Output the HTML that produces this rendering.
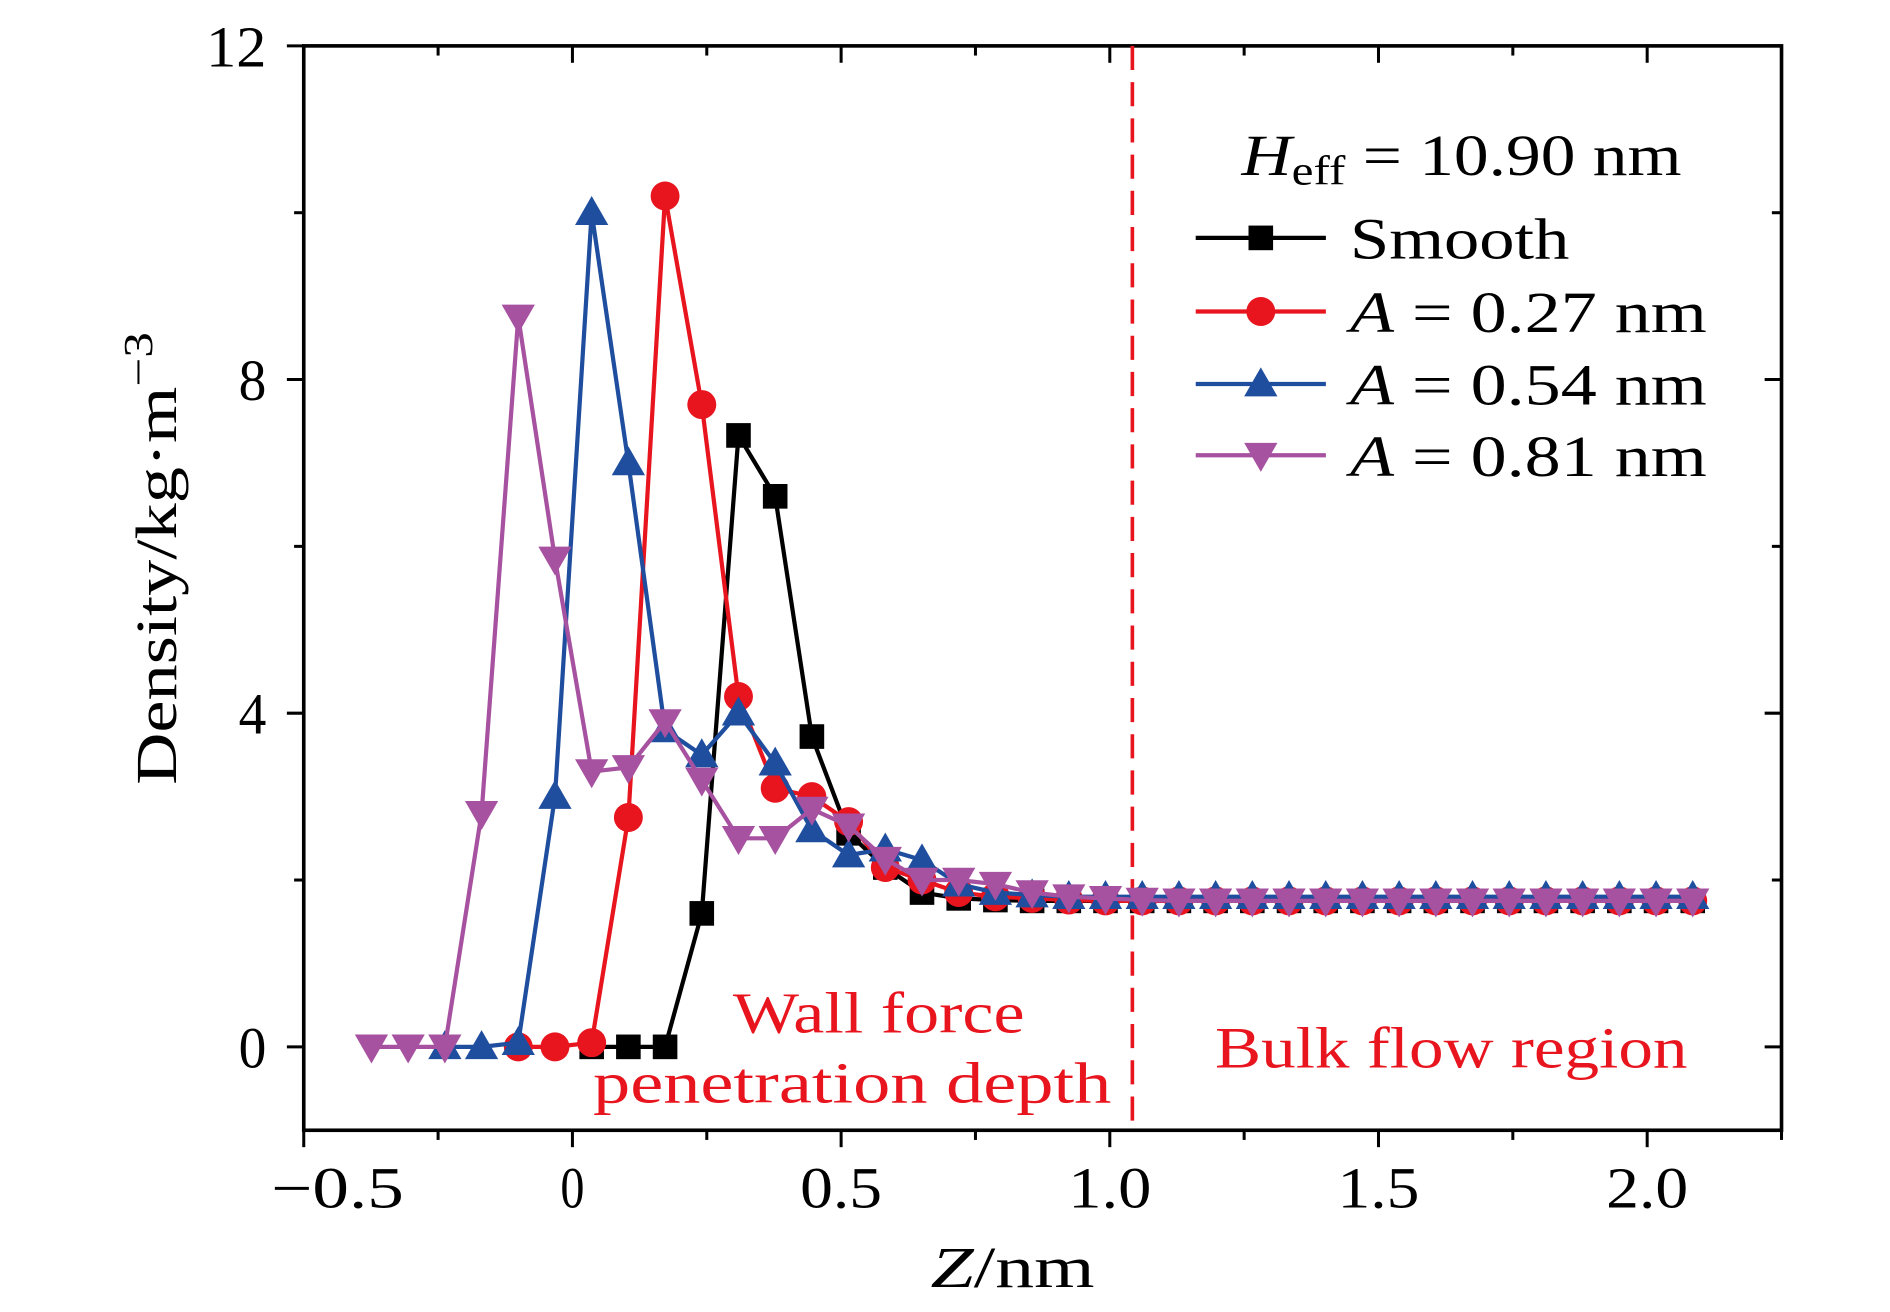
<!DOCTYPE html>
<html><head><meta charset="utf-8"><style>
html,body{margin:0;padding:0;background:#fff;}
svg{display:block;font-family:"Liberation Serif",serif;}
</style></head><body>
<svg id="chart" width="1890" height="1312" viewBox="0 0 1568 1086.5" preserveAspectRatio="none" xmlns="http://www.w3.org/2000/svg">
<g id="plot"></g>
</svg>
<script>
const xStart = -0.374, xStep = 0.0683;
const smoothStart = 6;
const smoothVals = [0,0,0,1.6,7.33,6.6,3.72,2.56,2.15,1.85,1.78,1.76,1.75,1.75,1.75,1.75,1.75,1.75,1.75,1.75,1.75,1.75,1.75,1.75,1.75,1.75,1.75,1.75,1.75,1.75,1.75];
const redStart = 4;
const redVals = [0,0,0.05,2.75,10.2,7.7,4.2,3.1,3.0,2.7,2.15,2.0,1.85,1.8,1.78,1.76,1.75,1.75,1.75,1.75,1.75,1.75,1.75,1.75,1.75,1.75,1.75,1.75,1.75,1.75,1.75,1.75,1.75];
const blueStart = 2;
const blueVals = [0,0,0.05,3.0,10.0,7.0,3.8,3.5,4.0,3.4,2.6,2.3,2.37,2.24,1.95,1.85,1.82,1.8,1.8,1.8,1.8,1.8,1.8,1.8,1.8,1.8,1.8,1.8,1.8,1.8,1.8,1.8,1.8,1.8,1.8];
const purpleStart = 0;
const purpleVals = [0,0,0,2.8,8.75,5.85,3.3,3.35,3.9,3.2,2.5,2.5,2.85,2.65,2.25,2.0,2.0,1.95,1.85,1.8,1.78,1.76,1.75,1.75,1.75,1.75,1.75,1.75,1.75,1.75,1.75,1.75,1.75,1.75,1.75,1.75,1.75];
const xTicks = [-0.5,0,0.5,1.0,1.5,2.0];
const xTickLabels = ["\u22120.5","0","0.5","1.0","1.5","2.0"];
const yTicks = [0,4,8,12];
const yTickLabels = ["0","4","8","12"];
const boundaryX = 1.042;

const L=252,R=1478,T=38,B=936, X0=-0.5,X1=2.25,Y0=-1,Y1=12;
const sx=v=>L+(v-X0)/(X1-X0)*(R-L);
const sy=v=>B-(v-Y0)/(Y1-Y0)*(B-T);
const NS="http://www.w3.org/2000/svg";
const g=document.getElementById('plot');
function mk(tag,attrs,parent){const e=document.createElementNS(NS,tag);for(const k in attrs)e.setAttribute(k,attrs[k]);(parent||g).appendChild(e);return e;}
function fit(t,len){t.setAttribute('textLength',len);t.setAttribute('lengthAdjust','spacingAndGlyphs');}

const fr=mk('rect',{x:L,y:T,width:R-L,height:B-T,fill:'none',stroke:'#000','stroke-width':3});


for(let v=-0.5;v<=2.26;v+=0.25){const major=Math.abs(v*2-Math.round(v*2))<1e-6;const len=major?14:8;const x=sx(v);
 const t=mk('line',{x1:x,x2:x,y1:B,y2:B+len,stroke:'#000','stroke-width':2.5});
 
 
 const t2=mk('line',{x1:x,x2:x,y1:T,y2:T+len,stroke:'#000','stroke-width':2.5});
 
 }
const xLabW=[110,20,68,69,68,68];
xTicks.forEach((v,i)=>{const t=mk('text',{x:sx(v)+(i==0?28:0),y:1000,'font-size':48,'text-anchor':'middle'});t.textContent=xTickLabels[i];
 fit(t,xLabW[i]);
 
 });
for(let v=0;v<=12;v+=2){const major=v%4==0;const len=major?14:8;const y=sy(v);
 const t=mk('line',{x1:L-len,x2:L,y1:y,y2:y,stroke:'#000','stroke-width':2.5});
 
 
 const t2=mk('line',{x1:R-len,x2:R,y1:y,y2:y,stroke:'#000','stroke-width':2.5});
 
 }
yTicks.forEach((v,i)=>{const t=mk('text',{x:221,y:sy(v)+17,'font-size':48,'text-anchor':'end'});t.textContent=yTickLabels[i];
 fit(t,i==3?50:23);
 
 });

const bd=mk('line',{x1:sx(boundaryX),x2:sx(boundaryX),y1:T,y2:B,stroke:'#e8141e','stroke-width':3,'stroke-dasharray':'20,10'});



function marker(type,cx,cy,color,parent,s){s=s||12;let e;
 if(type=='square')e=mk('rect',{x:cx-s*0.85,y:cy-s*0.85,width:s*1.7,height:s*1.7,fill:color},parent);
 else if(type=='circle')e=mk('circle',{cx:cx,cy:cy,r:s,fill:color},parent);
 else if(type=='up')e=mk('polygon',{points:`${cx},${cy-s*1.15} ${cx-s*1.15},${cy+s*0.85} ${cx+s*1.15},${cy+s*0.85}`,fill:color},parent);
 else e=mk('polygon',{points:`${cx},${cy+s*1.15} ${cx-s*1.15},${cy-s*0.85} ${cx+s*1.15},${cy-s*0.85}`,fill:color},parent);
 return e;}
function series(name,start,vals,color,type){const sg=mk('g',{});
 
 
 const pts=vals.map((v,i)=>[sx(xStart+(start+i)*xStep),sy(v)]);
 const pl=mk('polyline',{points:pts.map(p=>p.join(',')).join(' '),fill:'none',stroke:color,'stroke-width':3.5},sg);
 
 
 pts.forEach(p=>{const m=marker(type,p[0],p[1],color,sg);
  
  });}
series('smooth',smoothStart,smoothVals,'#000','square');
series('a027',redStart,redVals,'#e8141e','circle');
series('a054',blueStart,blueVals,'#1f4e9f','up');
series('a081',purpleStart,purpleVals,'#a752a0','down');

const lg=mk('g',{});


const ht=mk('text',{x:1030,y:145,'font-size':48},lg);
ht.innerHTML='<tspan font-style="italic">H</tspan><tspan font-size="34" dy="8">eff</tspan><tspan dy="-8"> = 10.90 nm</tspan>';
fit(ht,365);


const ent=[['Smooth','#000','square',197],['A = 0.27 nm','#e8141e','circle',258],['A = 0.54 nm','#1f4e9f','up',318],['A = 0.81 nm','#a752a0','down',377]];
ent.forEach((e,i)=>{const eg=mk('g',{},lg);
 
 
 mk('line',{x1:992,x2:1100,y1:e[3],y2:e[3],stroke:e[1],'stroke-width':3.5},eg);
 marker(e[2],1046,e[3],e[1],eg);
 const t=mk('text',{x:1120,y:e[3]+17,'font-size':48},eg);
 if(i==0){t.textContent='Smooth';fit(t,182);}else{t.innerHTML='<tspan font-style="italic">A</tspan> = '+e[0].slice(4);fit(t,296);}});

[['Wall force',608,855,242,'wall-force-label'],['penetration depth',492,913,430,'penetration-depth-label'],['Bulk flow region',1008,884,392,'bulk-flow-label']].forEach(a=>{
 const t=mk('text',{x:a[1],y:a[2],'font-size':48,fill:'#e8141e'});t.textContent=a[0];
 fit(t,a[3]);
 
 });
const xl=mk('text',{x:772,y:1066,'font-size':48});
xl.innerHTML='<tspan font-style="italic">Z</tspan>/nm';
fit(xl,136);


const yl=mk('text',{x:-650,y:146,'font-size':48,transform:'rotate(-90)'});
yl.innerHTML='Density/kg·m<tspan font-size="34" dy="-20">−3</tspan>';
fit(yl,375);


</script>
</body></html>
